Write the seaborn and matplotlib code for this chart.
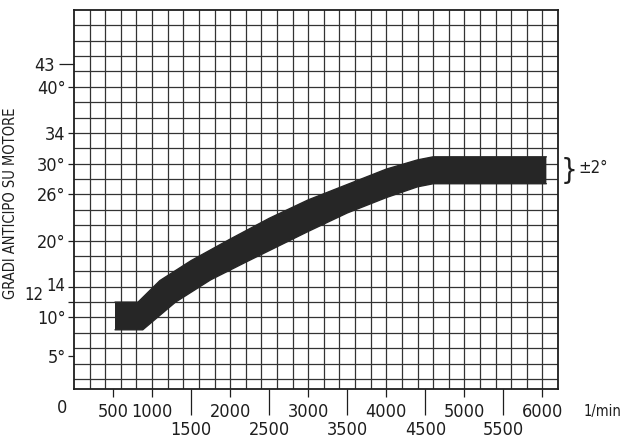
import numpy as np
import pandas as pd
import seaborn as sns
import matplotlib.pyplot as plt
from matplotlib import font_manager
from matplotlib.transforms import ScaledTranslation

# band edges (rpm, degrees)
rpm_upper = [525, 820, 1100, 1500, 2000, 2500, 3000, 3500, 4000, 4400, 4600, 6050]
deg_upper = [12.0, 12.0, 14.8, 17.4, 20.2, 22.9, 25.3, 27.3, 29.3, 30.5, 30.9, 30.9]
rpm_lower = [525, 880, 1300, 1750, 2200, 2600, 3000, 3500, 4000, 4400, 4600, 6050]
deg_lower = [8.4, 8.4, 12.0, 14.9, 17.2, 19.2, 21.2, 23.6, 25.6, 27.0, 27.4, 27.4]

x_ticks_top = [500, 1000, 2000, 3000, 4000, 5000, 6000]
x_ticks_low = [1500, 2500, 3500, 4500, 5500]
y_ticks = [5, 10, 12, 14, 20, 26, 30, 34, 40]
y_labels = ["5°", "10°", "12", "14", "20°", "26°", "30°", "34", "40°"]
y_tick_long = [43]

names = {f.name for f in font_manager.fontManager.ttflist}
if "Liberation Sans Narrow" in names:
    fam, stretch = ["Liberation Sans Narrow", "DejaVu Sans"], "normal"
else:
    fam, stretch = ["DejaVu Sans"], "condensed"

sns.set_theme(style="white")
plt.rcParams["font.family"] = fam
plt.rcParams["font.stretch"] = stretch
ink = "#1e1e1e"

fig = plt.figure(figsize=(6.23, 4.44), dpi=100)
ax = fig.add_axes([0.1188, 0.1239, 0.777, 0.8536])

# millimetre-paper style grid
for x in np.arange(200, 6200, 200):
    ax.axvline(x, color="#333333", lw=0.9, zorder=1)
for y in np.arange(2, 50, 2):
    ax.axhline(y, color="#333333", lw=0.9, zorder=1)

up = pd.DataFrame({"rpm": rpm_upper, "deg": deg_upper})
lo = pd.DataFrame({"rpm": rpm_lower, "deg": deg_lower})
ax.fill(rpm_upper + rpm_lower[::-1], deg_upper + deg_lower[::-1],
        color="#262626", lw=0, zorder=2)
sns.lineplot(data=up, x="rpm", y="deg", sort=False, color="#262626", lw=1, ax=ax, zorder=3)
sns.lineplot(data=lo, x="rpm", y="deg", sort=False, color="#262626", lw=1, ax=ax, zorder=3)

ax.set_xlim(0, 6200)
ax.set_ylim(0.7, 50)

ax.set_xticks(x_ticks_top)
ax.set_xticklabels([str(v) for v in x_ticks_top])
ax.set_xticks(x_ticks_low, minor=True)
ax.set_xticklabels([str(v) for v in x_ticks_low], minor=True)
ax.tick_params(axis="x", which="major", direction="out", length=6, width=0.9,
               color=ink, pad=4, labelsize=13, labelcolor=ink, bottom=True)
ax.tick_params(axis="x", which="minor", direction="out", length=19, width=0.9,
               color=ink, pad=4, labelsize=13, labelcolor=ink, bottom=True)

ax.set_yticks(y_ticks)
ax.set_yticklabels(y_labels)
ax.set_yticks(y_tick_long, minor=True)
ax.set_yticklabels([str(v) for v in y_tick_long], minor=True)
ax.tick_params(axis="y", which="major", direction="out", length=4, width=0.9,
               color=ink, pad=2, labelsize=13, labelcolor=ink, left=True)
ax.tick_params(axis="y", which="minor", direction="out", length=11, width=0.9,
               color=ink, pad=3, labelsize=13, labelcolor=ink, left=True)

# the "12" label sits up and to the left of "14" in the original
for lab in ax.get_yticklabels():
    if lab.get_text() == "12":
        lab.set_fontsize(12)
        lab.set_transform(lab.get_transform() +
                          ScaledTranslation(-22 / 100, 9 / 100, fig.dpi_scale_trans))
    if lab.get_text() == "14":
        lab.set_fontsize(12)
        lab.set_transform(lab.get_transform() +
                          ScaledTranslation(0, 3 / 100, fig.dpi_scale_trans))

for s in ax.spines.values():
    s.set_visible(True)
    s.set_color(ink)
    s.set_linewidth(1.3)

ax.set_xlabel("")
ax.set_ylabel("GRADI ANTICIPO SU MOTORE", fontsize=10.5, color=ink)
ax.yaxis.set_label_coords(-0.116, 0.49)

ax.text(-0.025, -0.05, "0", transform=ax.transAxes, ha="center", va="center",
        fontsize=13, color=ink)
ax.text(1.052, -0.06, "1/min", transform=ax.transAxes, ha="left", va="center",
        fontsize=10.5, color=ink)
ax.annotate("}", xy=(1.006, 29.1), xycoords=("axes fraction", "data"),
            ha="left", va="center", fontsize=21, fontweight="light", color=ink)
ax.annotate("±2°", xy=(1.042, 29.5), xycoords=("axes fraction", "data"),
            ha="left", va="center", fontsize=12, color=ink)

fig.savefig("out.png", dpi=100)
